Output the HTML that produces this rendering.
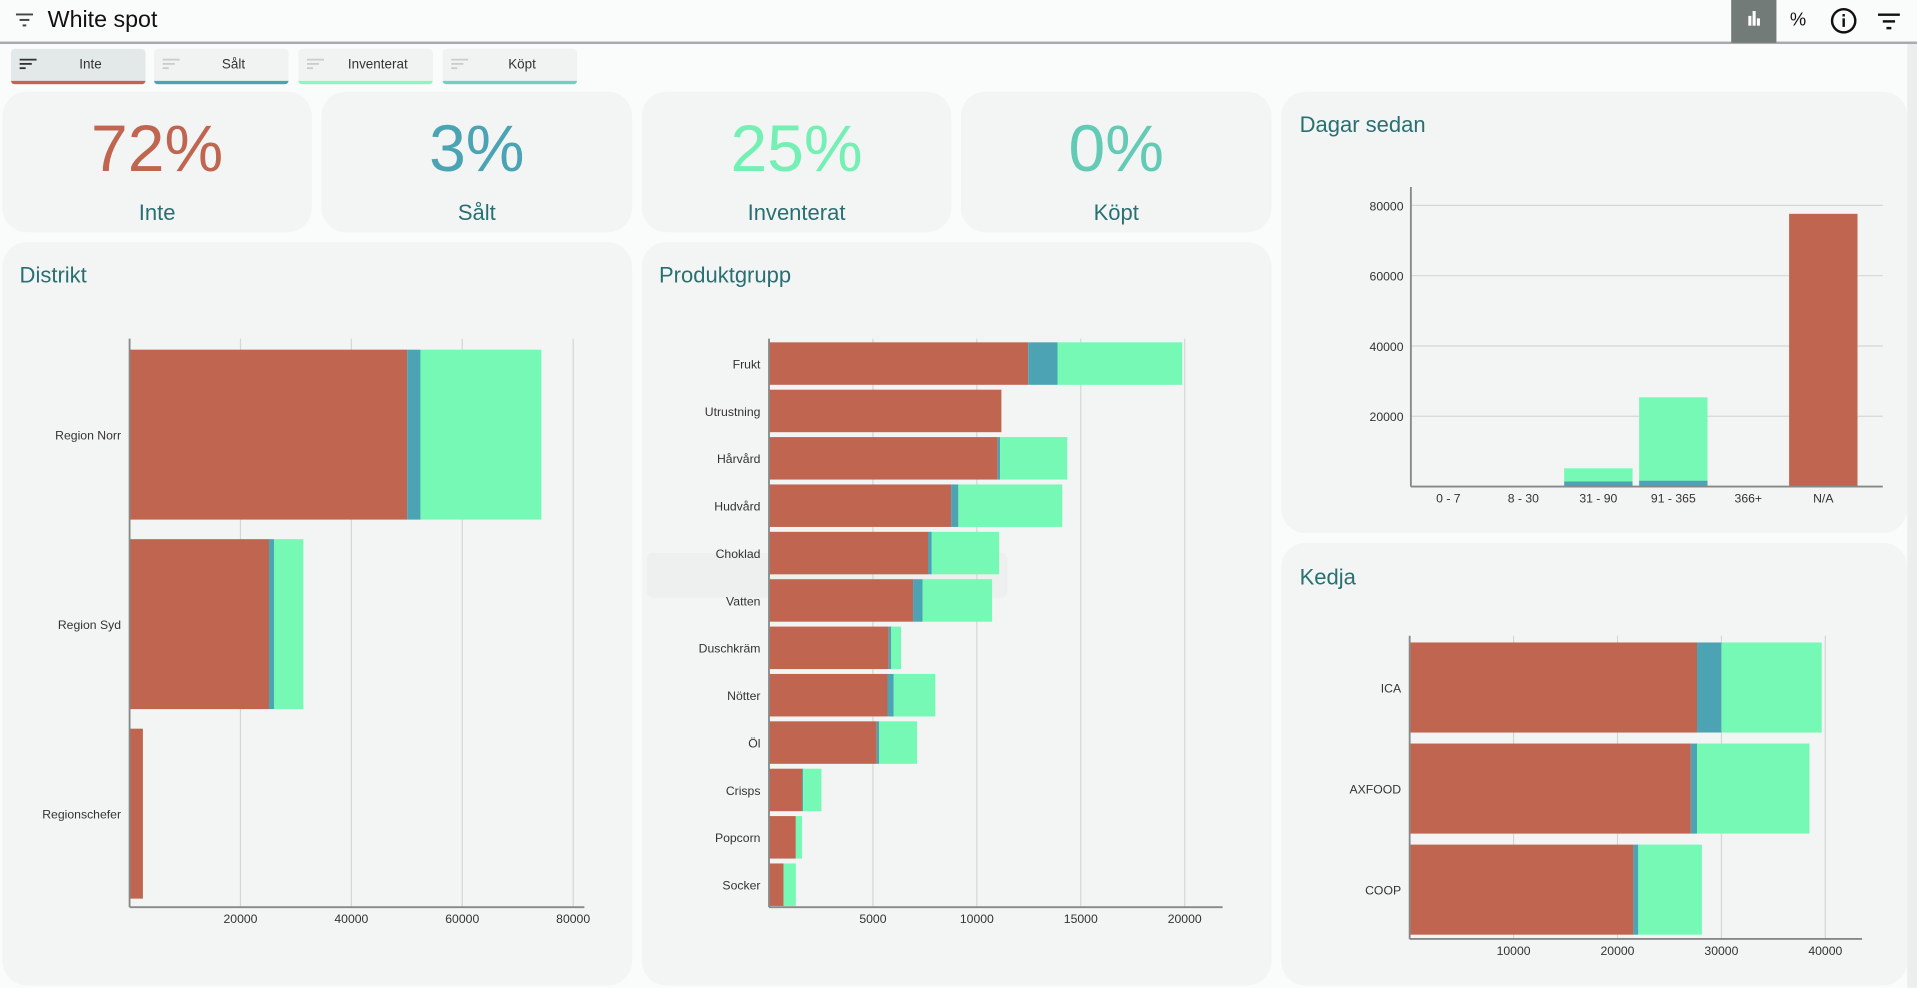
<!DOCTYPE html>
<html><head><meta charset="utf-8">
<style>
html,body{margin:0;padding:0;width:1917px;height:988px;overflow:hidden;background:#fafbfb;font-family:"Liberation Sans",sans-serif;}
#wrap{position:absolute;left:0;top:0;width:1568px;height:808px;transform:scale(1.2226);transform-origin:0 0;}
.abs{position:absolute;}
.card{position:absolute;background:#f2f5f4;border-radius:20px;}
.kpi .v{position:absolute;left:0;right:0;top:16px;text-align:center;font-size:54px;}
.kpi .l{position:absolute;left:0;right:0;top:89px;text-align:center;font-size:18px;color:#2a6f72;}
.title{position:absolute;font-size:18px;color:#2a6f72;}
.chip{position:absolute;top:40px;height:26px;width:110px;background:#f0f3f2;border-radius:3px;font-size:11px;color:#333;}
.chip span{position:absolute;left:0;right:0;top:7px;text-align:center;padding-left:20px;}
.chip i{position:absolute;left:7px;top:8px;width:14px;height:9px;}
svg text{font-family:"Liberation Sans",sans-serif;}
</style></head><body>
<div id="wrap">
<div class="abs" style="left:0;top:0;width:1568px;height:34px;background:#fafbfb;border-bottom:2px solid #a8abab;"></div>
<svg class="abs" style="left:13px;top:11px" width="14" height="12"><rect x="0" y="0" width="14" height="1.6" fill="#444"/><rect x="3" y="4.5" width="8" height="1.6" fill="#444"/><rect x="5.5" y="9" width="3" height="1.6" fill="#444"/></svg>
<div class="abs" style="left:39px;top:6px;font-size:19px;color:#111;">White spot</div>
<div class="abs" style="left:1416px;top:0;width:37px;height:35px;background:#737b79;">
<svg width="37" height="35"><rect x="14" y="13" width="2.5" height="8" fill="#fff"/><rect x="17.5" y="9" width="2.5" height="12" fill="#fff"/><rect x="21" y="15" width="2.5" height="6" fill="#fff"/></svg></div>
<div class="abs" style="left:1464px;top:8px;font-size:15px;color:#111;">%</div>
<svg class="abs" style="left:1497px;top:6px" width="22" height="22"><circle cx="11" cy="11" r="9.5" fill="none" stroke="#111" stroke-width="2"/><rect x="10" y="9" width="2" height="7" fill="#111"/><rect x="10" y="5.5" width="2" height="2" fill="#111"/></svg>
<svg class="abs" style="left:1536px;top:11px" width="18" height="14"><rect x="0" y="0" width="18" height="2" fill="#111"/><rect x="4" y="5.5" width="10" height="2" fill="#111"/><rect x="7" y="11" width="4" height="2" fill="#111"/></svg>
<div class="abs" style="left:1560px;top:36px;width:8px;height:772px;background:#eceeee;"></div>

<div class="chip" style="left:9px;background:#e3e9e8;border-bottom:3px solid #c0654f;"><i><svg width="14" height="9"><rect width="14" height="1.5" fill="#333"/><rect y="3.5" width="10" height="1.5" fill="#333"/><rect y="7" width="5" height="1.5" fill="#333"/></svg></i><span>Inte</span></div>
<div class="chip" style="left:126px;border-bottom:3px solid #4ca3b3;"><i><svg width="14" height="9"><rect width="14" height="1.5" fill="#ccc"/><rect y="3.5" width="10" height="1.5" fill="#ccc"/><rect y="7" width="5" height="1.5" fill="#ccc"/></svg></i><span>Sålt</span></div>
<div class="chip" style="left:244px;border-bottom:3px solid #8ff5c0;"><i><svg width="14" height="9"><rect width="14" height="1.5" fill="#ccc"/><rect y="3.5" width="10" height="1.5" fill="#ccc"/><rect y="7" width="5" height="1.5" fill="#ccc"/></svg></i><span>Inventerat</span></div>
<div class="chip" style="left:362px;border-bottom:3px solid #72cfc0;"><i><svg width="14" height="9"><rect width="14" height="1.5" fill="#ccc"/><rect y="3.5" width="10" height="1.5" fill="#ccc"/><rect y="7" width="5" height="1.5" fill="#ccc"/></svg></i><span>Köpt</span></div>

<div class="card kpi" style="left:2px;top:75px;width:253px;height:115px;"><div class="v" style="color:#c0654f">72%</div><div class="l">Inte</div></div>
<div class="card kpi" style="left:263px;top:75px;width:254px;height:115px;"><div class="v" style="color:#4ca3b3">3%</div><div class="l">Sålt</div></div>
<div class="card kpi" style="left:525px;top:75px;width:253px;height:115px;"><div class="v" style="color:#75f0b4">25%</div><div class="l">Inventerat</div></div>
<div class="card kpi" style="left:786px;top:75px;width:254px;height:115px;"><div class="v" style="color:#63cab6">0%</div><div class="l">Köpt</div></div>

<div class="card" style="left:2px;top:198px;width:515px;height:608px;"></div>
<div class="title" style="left:16px;top:215px;">Distrikt</div>
<div class="card" style="left:525px;top:198px;width:515px;height:608px;"></div>
<div class="title" style="left:539px;top:215px;">Produktgrupp</div>
<div class="card" style="left:1048px;top:75px;width:512px;height:361px;"></div>
<div class="title" style="left:1063px;top:92px;">Dagar sedan</div>
<div class="card" style="left:1048px;top:444px;width:512px;height:362px;"></div>
<div class="title" style="left:1063px;top:462px;">Kedja</div>

<div class="abs" style="left:529px;top:452px;width:295px;height:37px;background:rgba(0,0,0,0.02);border-radius:5px;"></div>
<svg id="charts" class="abs" style="left:0;top:0" width="1568" height="808"></svg>
</div>
<script>
const seriesColors=["#c0654f","#4ca3b3","#75f9b4"];
// Distrikt
const distCats=["Region Norr","Region Syd","Regionschefer"];
const distInte=[50060,25140,2400];
const distSalt=[2400,900,0];
const distInv=[21800,5300,0];
const distTicks=[20000,40000,60000,80000];
// Produktgrupp
const prodCats=["Frukt","Utrustning","Hårvård","Hudvård","Choklad","Vatten","Duschkräm","Nötter","Öl","Crisps","Popcorn","Socker"];
const prodInte=[12470,11180,11000,8760,7650,6931,5760,5700,5180,1590,1290,700];
const prodSalt=[1410,0,120,350,180,456,120,300,120,50,0,0];
const prodInv=[6000,0,3230,5000,3240,3347,470,2000,1820,880,300,590];
const prodTicks=[5000,10000,15000,20000];
// Kedja
const kedCats=["ICA","AXFOOD","COOP"];
const kedInte=[27650,27060,21530];
const kedSalt=[2350,590,470];
const kedInv=[9650,10820,6120];
const kedTicks=[10000,20000,30000,40000];
// Dagar sedan
const dagCats=["0 - 7","8 - 30","31 - 90","91 - 365","366+","N/A"];
const dagInte=[0,0,0,0,0,77600];
const dagSalt=[0,0,1500,1700,0,0];
const dagInv=[0,0,3700,23700,0,0];
const dagTicks=[20000,40000,60000,80000];

const svg=document.getElementById('charts');
const NS="http://www.w3.org/2000/svg";
function mk(tag,attrs){const e=document.createElementNS(NS,tag);for(const k in attrs)e.setAttribute(k,attrs[k]);svg.appendChild(e);return e;}

function hbar(name,x0,y0,y1,xEnd,pxPerUnit,cats,series,ticks,gap){
  const sx=v=>x0+v*pxPerUnit;
  ticks.forEach(t=>{
    const g=mk('line',{x1:sx(t),x2:sx(t),y1:y0,y2:y1,stroke:'#d4d7d6','stroke-width':1});
    
    
    const tl=mk('text',{x:sx(t),y:y1+13,'font-size':10,fill:'#333','text-anchor':'middle'});
    tl.textContent=t;
    
    
  });
  const band=(y1-y0)/cats.length;
  cats.forEach((c,i)=>{
    const by=y0+i*band+gap/2+1, bh=band-gap;
    let acc=0;
    series.forEach((s,j)=>{
      const v=s[i];
      if(v>0){
        const r=mk('rect',{x:sx(acc),y:by,width:v*pxPerUnit,height:bh,fill:seriesColors[j]});
        
        
      }
      acc+=v;
    });
    const lb=mk('text',{x:x0-7,y:by+bh/2+4,'font-size':10,fill:'#333','text-anchor':'end'});
    lb.textContent=c;
    
    
  });
  const ax=mk('line',{x1:x0,x2:x0,y1:y0,y2:y1,stroke:'#888','stroke-width':1.5});
  
  
  const bx=mk('line',{x1:x0,x2:xEnd,y1:y1,y2:y1,stroke:'#888','stroke-width':1.5});
  
  
}
hbar('distrikt',106,277,742,478,90.7/20000,distCats,[distInte,distSalt,distInv],distTicks,16);
hbar('produktgrupp',629,277,742,1000,0.017,prodCats,[prodInte,prodSalt,prodInv],prodTicks,4);
hbar('kedja',1153,520,768,1523,0.0085,kedCats,[kedInte,kedSalt,kedInv],kedTicks,9);

// Dagar vertical
(function(){
  const x0=1154,xEnd=1522,y0=153,y1=398,ppu=57.5/20000;
  const sy=v=>y1-v*ppu;
  dagTicks.forEach(t=>{
    const g=mk('line',{x1:x0,x2:1540,y1:sy(t),y2:sy(t),stroke:'#d4d7d6','stroke-width':1});
    
    
    const tl=mk('text',{x:x0-6,y:sy(t)+4,'font-size':10,fill:'#333','text-anchor':'end'});
    tl.textContent=t;
    
    
  });
  const band=(xEnd-x0)/dagCats.length;
  dagCats.forEach((c,i)=>{
    const bx=x0+i*band+2.7,bw=band-5.4;
    let acc=0;
    [dagInte,dagSalt,dagInv].forEach((s,j)=>{
      const v=s[i];
      if(v>0){
        const r=mk('rect',{x:bx,y:sy(acc+v),width:bw,height:v*ppu,fill:seriesColors[j]});
        
        
      }
      acc+=v;
    });
    const lb=mk('text',{x:bx+bw/2,y:y1+13,'font-size':10,fill:'#333','text-anchor':'middle'});
    lb.textContent=c;
    
    
  });
  const ax=mk('line',{x1:x0,x2:x0,y1:y0,y2:y1,stroke:'#888','stroke-width':1.5});
  
  
  const bx2=mk('line',{x1:x0,x2:1540,y1:y1,y2:y1,stroke:'#888','stroke-width':1.5});
  
  
})();
</script>
</body></html>
